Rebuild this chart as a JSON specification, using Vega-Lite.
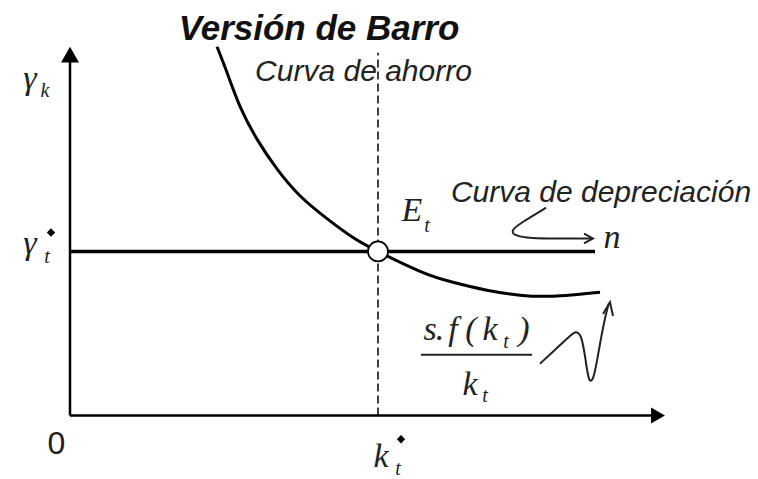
{
  "$schema": "https://vega.github.io/schema/vega-lite/v6.json",
  "width": 758,
  "height": 479,
  "autosize": {"type": "fit", "contains": "padding"},
  "padding": 0,
  "background": "white",
  "config": {"view": {"stroke": null}},
  "datasets": {
    "axes": [{"x": 0, "y": 0, "x2": 0, "y2": 360}, {"x": 0, "y": 0, "x2": 582, "y2": 0}],
    "gline": [{"x": 0, "y": 165, "x2": 525, "y2": 165}],
    "dash": [{"x": 308, "y": 0, "x2": 308, "y2": 365}],
    "fracline": [{"x": 351, "y": 61, "x2": 462, "y2": 61}],
    "arrowY": [{"x": 0, "y": 363}],
    "arrowX": [{"x": 588, "y": 0}],
    "curve": [
      {"o": 1, "x": 147, "y": 371}, {"o": 2, "x": 157, "y": 345}, {"o": 3, "x": 170, "y": 311},
      {"o": 4, "x": 187, "y": 278}, {"o": 5, "x": 207, "y": 248}, {"o": 6, "x": 230, "y": 221},
      {"o": 7, "x": 257, "y": 198}, {"o": 8, "x": 283, "y": 179}, {"o": 9, "x": 308, "y": 165},
      {"o": 10, "x": 350, "y": 145}, {"o": 11, "x": 383, "y": 134},
      {"o": 12, "x": 417, "y": 126}, {"o": 13, "x": 450, "y": 121}, {"o": 14, "x": 483, "y": 120},
      {"o": 15, "x": 530, "y": 124}
    ],
    "circle": [{"x": 308, "y": 165}],
    "stars": [{"x": -19, "y": 184}, {"x": 331, "y": -24}],
    "squiggles": [
      {"p": "a", "o": 1, "x": 476, "y": 209}, {"p": "a", "o": 2, "x": 465, "y": 202},
      {"p": "a", "o": 3, "x": 450, "y": 193}, {"p": "a", "o": 4, "x": 441, "y": 186},
      {"p": "a", "o": 5, "x": 444, "y": 181}, {"p": "a", "o": 6, "x": 460, "y": 178},
      {"p": "a", "o": 7, "x": 490, "y": 178}, {"p": "a", "o": 8, "x": 522, "y": 178},
      {"p": "b", "o": 1, "x": 470, "y": 52}, {"p": "b", "o": 2, "x": 485, "y": 66},
      {"p": "b", "o": 3, "x": 498, "y": 78}, {"p": "b", "o": 4, "x": 506, "y": 86},
      {"p": "b", "o": 5, "x": 512, "y": 80}, {"p": "b", "o": 6, "x": 516, "y": 53},
      {"p": "b", "o": 7, "x": 519, "y": 32}, {"p": "b", "o": 8, "x": 524, "y": 36},
      {"p": "b", "o": 9, "x": 530, "y": 73}, {"p": "b", "o": 10, "x": 536, "y": 103},
      {"p": "b", "o": 11, "x": 539, "y": 113}
    ],
    "heads": [
      {"p": "a", "o": 1, "x": 514, "y": 183}, {"p": "a", "o": 2, "x": 523, "y": 178}, {"p": "a", "o": 3, "x": 514, "y": 173},
      {"p": "b", "o": 1, "x": 533, "y": 102}, {"p": "b", "o": 2, "x": 540, "y": 114}, {"p": "b", "o": 3, "x": 543, "y": 100}
    ],
    "title": [{"t": "Versión de Barro", "x": 249, "y": 378}],
    "sansital": [{"t": "Curva de ahorro", "x": 293.5, "y": 336}, {"t": "Curva de depreciación", "x": 531, "y": 215}],
    "zero": [{"t": "0", "x": -13.5, "y": -39}],
    "serif": [
      {"t": "γ", "x": -40, "y": 328}, {"t": "γ", "x": -40, "y": 162}, {"t": "k", "x": 311, "y": -52},
      {"t": "E", "x": 342, "y": 196}, {"t": "n", "x": 542, "y": 168},
      {"t": "s", "x": 360, "y": 76}, {"t": ".", "x": 370, "y": 76}, {"t": "f", "x": 383, "y": 76},
      {"t": "(", "x": 401, "y": 76}, {"t": "k", "x": 420, "y": 76}, {"t": ")", "x": 454, "y": 76},
      {"t": "k", "x": 400, "y": 21}
    ],
    "subs": [
      {"t": "k", "x": -25, "y": 320}, {"t": "t", "x": -23, "y": 153}, {"t": "t", "x": 328, "y": -60},
      {"t": "t", "x": 357, "y": 185}, {"t": "t", "x": 436, "y": 68}, {"t": "t", "x": 415, "y": 13}
    ]
  },
  "encoding": {
    "x": {"field": "x", "type": "quantitative", "scale": {"domain": [-70, 688], "nice": false, "zero": false}, "axis": null},
    "y": {"field": "y", "type": "quantitative", "scale": {"domain": [-61, 418], "nice": false, "zero": false}, "axis": null}
  },
  "layer": [
    {"data": {"name": "axes"}, "mark": {"type": "rule", "color": "black", "strokeWidth": 2.5},
     "encoding": {"x2": {"field": "x2"}, "y2": {"field": "y2"}}},
    {"data": {"name": "gline"}, "mark": {"type": "rule", "color": "black", "strokeWidth": 3.5},
     "encoding": {"x2": {"field": "x2"}, "y2": {"field": "y2"}}},
    {"data": {"name": "dash"}, "mark": {"type": "rule", "color": "black", "strokeWidth": 1.5, "strokeDash": [8, 4]},
     "encoding": {"x2": {"field": "x2"}, "y2": {"field": "y2"}}},
    {"data": {"name": "fracline"}, "mark": {"type": "rule", "color": "#222", "strokeWidth": 2},
     "encoding": {"x2": {"field": "x2"}, "y2": {"field": "y2"}}},
    {"data": {"name": "arrowY"}, "mark": {"type": "point", "shape": "triangle-up", "filled": true, "color": "black", "opacity": 1, "size": 324}},
    {"data": {"name": "arrowX"}, "mark": {"type": "point", "shape": "triangle-right", "filled": true, "color": "black", "opacity": 1, "size": 256}},
    {"data": {"name": "curve"}, "mark": {"type": "line", "color": "black", "strokeWidth": 3, "interpolate": "natural"},
     "encoding": {"order": {"field": "o", "type": "quantitative"}}},
    {"data": {"name": "squiggles"}, "mark": {"type": "line", "color": "#222", "strokeWidth": 2, "interpolate": "basis"},
     "encoding": {"order": {"field": "o", "type": "quantitative"}, "detail": {"field": "p"}}},
    {"data": {"name": "heads"}, "mark": {"type": "line", "color": "#222", "strokeWidth": 2},
     "encoding": {"order": {"field": "o", "type": "quantitative"}, "detail": {"field": "p"}}},
    {"data": {"name": "circle"}, "mark": {"type": "point", "shape": "circle", "filled": true, "fill": "white", "stroke": "black", "strokeWidth": 1.8, "opacity": 1, "size": 400}},
    {"data": {"name": "stars"}, "mark": {"type": "point", "shape": "diamond", "filled": true, "color": "black", "opacity": 1, "size": 70}},
    {"data": {"name": "title"}, "mark": {"type": "text", "font": "Liberation Sans", "fontSize": 35, "fontWeight": "bold", "fontStyle": "italic", "align": "center", "baseline": "alphabetic", "color": "#111"},
     "encoding": {"text": {"field": "t"}}},
    {"data": {"name": "sansital"}, "mark": {"type": "text", "font": "Liberation Sans", "fontSize": 30, "fontStyle": "italic", "align": "center", "baseline": "alphabetic", "color": "#222"},
     "encoding": {"text": {"field": "t"}}},
    {"data": {"name": "zero"}, "mark": {"type": "text", "font": "Liberation Sans", "fontSize": 32, "align": "center", "baseline": "alphabetic", "color": "#222"},
     "encoding": {"text": {"field": "t"}}},
    {"data": {"name": "serif"}, "mark": {"type": "text", "font": "Liberation Serif", "fontSize": 34, "fontStyle": "italic", "align": "center", "baseline": "alphabetic", "color": "#222"},
     "encoding": {"text": {"field": "t"}}},
    {"data": {"name": "subs"}, "mark": {"type": "text", "font": "Liberation Serif", "fontSize": 20, "fontStyle": "italic", "align": "center", "baseline": "alphabetic", "color": "#222"},
     "encoding": {"text": {"field": "t"}}}
  ]
}
